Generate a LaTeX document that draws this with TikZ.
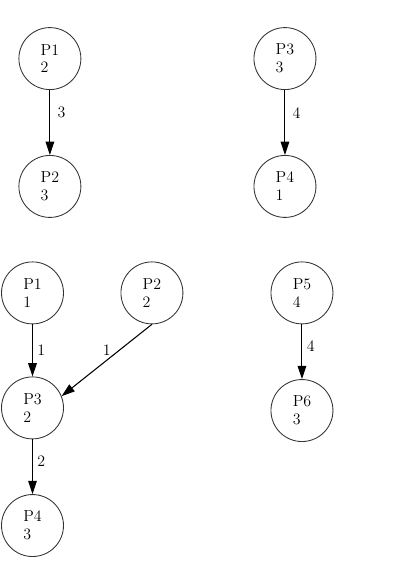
\documentclass[tikz,border=0pt]{standalone}
\usetikzlibrary{arrows.meta, positioning}

\begin{document}
\begin{tikzpicture}[
    node distance=1.45cm,
    task/.style={circle, draw=black!80, line width=0.65pt, minimum size=1.64cm, inner sep=0pt, align=left, font=\fontsize{12}{13.5}\selectfont},
    arrow/.style={line width=0.8pt, -{Triangle[length=10pt, width=6.5pt]}},
    weight/.style={font=\fontsize{12}{13.5}\selectfont}
]
\useasboundingbox (0,0) rectangle (10.69,-14.95);

% Nodes
\node (g1p1) [task] at (1.32,-1.55) {P1\\2};
\node (g1p2) [task, below=1.72cm of g1p1] {P2\\3};
\node (g2p3) [task] at (7.54,-1.55) {P3\\3};
\node (g2p4) [task, below=1.72cm of g2p3] {P4\\1};

\node (g3p1) [task] at (0.86,-7.75) {P1\\1};
\node (g3p2) [task] at (4.02,-7.75) {P2\\2};
\node (g3p3) [task, below=1.38cm of g3p1] {P3\\2};
\node (g3p4) [task, below=of g3p3] {P4\\3};
\node (g4p5) [task] at (7.99,-7.75) {P5\\4};
\node (g4p6) [task, below=of g4p5] {P6\\3};

% Connections
\draw [arrow] (g1p1) -- node[weight, right, pos=0.35, xshift=2pt] {3} (g1p2);
\draw [arrow] (g2p3) -- node[weight, right, pos=0.35, xshift=2pt] {4} (g2p4);
\draw [arrow] (g3p1) -- node[weight, right] {1} (g3p3);
\draw [arrow] (g3p2.south) -- node[weight, above] {1} (g3p3.22);
\draw [arrow] (g3p3) -- node[weight, right, pos=0.4] {2} (g3p4);
\draw [arrow] (g4p5) -- node[weight, right, pos=0.4] {4} (g4p6);

\end{tikzpicture}
\end{document}
